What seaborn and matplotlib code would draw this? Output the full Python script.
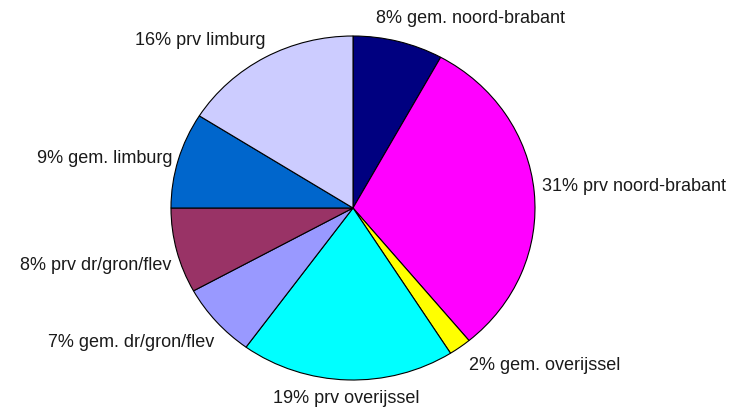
import matplotlib
matplotlib.use('Agg')
import seaborn as sns
from matplotlib import pyplot as plt
from matplotlib.transforms import offset_copy

# slices clockwise from 12 o'clock
labels = ['gem. noord-brabant', 'prv noord-brabant', 'gem. overijssel', 'prv overijssel',
          'gem. dr/gron/flev', 'prv dr/gron/flev', 'gem. limburg', 'prv limburg']
shares = [8, 31, 2, 19, 7, 8, 9, 16]
colors = ['#000080', '#FF00FF', '#FFFF00', '#00FFFF', '#9999FF', '#993366', '#0066CC', '#CCCCFF']

# small pixel nudges so labels sit where the spreadsheet put them
label_nudge = [(-26, 11), (-7, 5), (0, -6), (-1, -4), (9, -11), (9, -10), (8, -1), (7, 6)]

sns.set_theme(style='white')
plt.rcParams['font.family'] = ['Liberation Sans', 'DejaVu Sans']

fig = plt.figure(figsize=(7.44, 4.10), dpi=100)
# axes box = the pie's bounding box (pie is slightly wider than tall)
ax = fig.add_axes([171 / 744, 29 / 410, 364 / 744, 344 / 410])

text_labels = [f'{v}% {name}' for v, name in zip(shares, labels)]
wedges, texts = ax.pie(shares, labels=text_labels, colors=colors, startangle=90,
                       counterclock=False, labeldistance=1.08,
                       wedgeprops=dict(edgecolor='black', linewidth=0.8),
                       textprops=dict(fontsize=13, color='#1a1a1a'))
ax.set_aspect('auto')
ax.set_xlim(-1, 1)
ax.set_ylim(-1, 1)
ax.axis('off')

texts[3].set_ha('center')
for t, (dx, dy) in zip(texts, label_nudge):
    t.set_transform(offset_copy(t.get_transform(), fig=fig, x=dx, y=dy, units='dots'))

fig.savefig('out.png', dpi=100)
